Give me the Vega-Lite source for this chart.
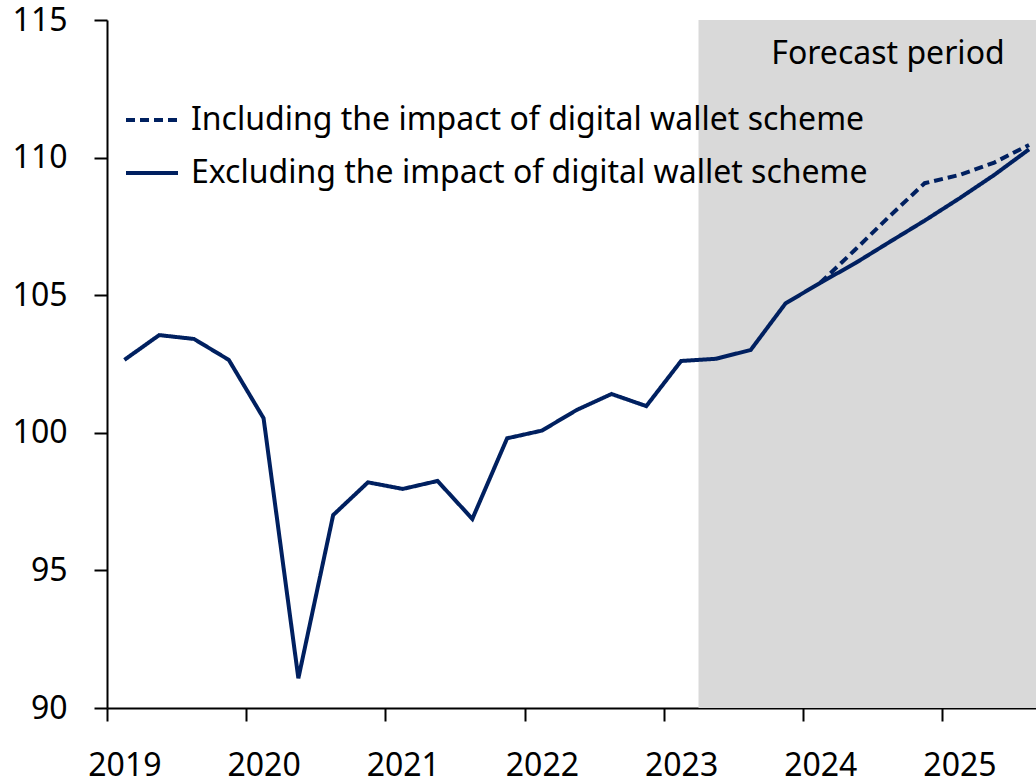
{
  "$schema": "https://vega.github.io/schema/vega-lite/v6.json",
  "width": 929,
  "height": 688,
  "autosize": "none",
  "padding": {"left": 107, "top": 20, "right": 0, "bottom": 74},
  "background": "white",
  "config": {"font": "Noto Sans", "view": {"stroke": null}},
  "datasets": {
    "forecast": [{"start": 16.5, "end": 30, "lo": 90, "hi": 115, "label": "Forecast period", "lx": 25.3, "ly": 113.78}],
    "series": [
      {"q": 0, "quarter": "2019Q1", "series": "Excluding the impact of digital wallet scheme", "value": 102.65},
      {"q": 1, "quarter": "2019Q2", "series": "Excluding the impact of digital wallet scheme", "value": 103.55},
      {"q": 2, "quarter": "2019Q3", "series": "Excluding the impact of digital wallet scheme", "value": 103.41},
      {"q": 3, "quarter": "2019Q4", "series": "Excluding the impact of digital wallet scheme", "value": 102.65},
      {"q": 4, "quarter": "2020Q1", "series": "Excluding the impact of digital wallet scheme", "value": 100.53},
      {"q": 5, "quarter": "2020Q2", "series": "Excluding the impact of digital wallet scheme", "value": 91.08},
      {"q": 6, "quarter": "2020Q3", "series": "Excluding the impact of digital wallet scheme", "value": 97.01},
      {"q": 7, "quarter": "2020Q4", "series": "Excluding the impact of digital wallet scheme", "value": 98.2},
      {"q": 8, "quarter": "2021Q1", "series": "Excluding the impact of digital wallet scheme", "value": 97.96},
      {"q": 9, "quarter": "2021Q2", "series": "Excluding the impact of digital wallet scheme", "value": 98.25},
      {"q": 10, "quarter": "2021Q3", "series": "Excluding the impact of digital wallet scheme", "value": 96.87},
      {"q": 11, "quarter": "2021Q4", "series": "Excluding the impact of digital wallet scheme", "value": 99.8},
      {"q": 12, "quarter": "2022Q1", "series": "Excluding the impact of digital wallet scheme", "value": 100.08},
      {"q": 13, "quarter": "2022Q2", "series": "Excluding the impact of digital wallet scheme", "value": 100.83},
      {"q": 14, "quarter": "2022Q3", "series": "Excluding the impact of digital wallet scheme", "value": 101.41},
      {"q": 15, "quarter": "2022Q4", "series": "Excluding the impact of digital wallet scheme", "value": 100.97},
      {"q": 16, "quarter": "2023Q1", "series": "Excluding the impact of digital wallet scheme", "value": 102.61},
      {"q": 17, "quarter": "2023Q2", "series": "Excluding the impact of digital wallet scheme", "value": 102.69},
      {"q": 18, "quarter": "2023Q3", "series": "Excluding the impact of digital wallet scheme", "value": 103.01},
      {"q": 19, "quarter": "2023Q4", "series": "Excluding the impact of digital wallet scheme", "value": 104.7},
      {"q": 20, "quarter": "2024Q1", "series": "Excluding the impact of digital wallet scheme", "value": 105.45},
      {"q": 21, "quarter": "2024Q2", "series": "Excluding the impact of digital wallet scheme", "value": 106.16},
      {"q": 22, "quarter": "2024Q3", "series": "Excluding the impact of digital wallet scheme", "value": 106.94},
      {"q": 23, "quarter": "2024Q4", "series": "Excluding the impact of digital wallet scheme", "value": 107.71},
      {"q": 24, "quarter": "2025Q1", "series": "Excluding the impact of digital wallet scheme", "value": 108.52},
      {"q": 25, "quarter": "2025Q2", "series": "Excluding the impact of digital wallet scheme", "value": 109.37},
      {"q": 26, "quarter": "2025Q3", "series": "Excluding the impact of digital wallet scheme", "value": 110.3},
      {"q": 20, "quarter": "2024Q1", "series": "Including the impact of digital wallet scheme", "value": 105.45},
      {"q": 21, "quarter": "2024Q2", "series": "Including the impact of digital wallet scheme", "value": 106.65},
      {"q": 22, "quarter": "2024Q3", "series": "Including the impact of digital wallet scheme", "value": 107.88},
      {"q": 23, "quarter": "2024Q4", "series": "Including the impact of digital wallet scheme", "value": 109.07},
      {"q": 24, "quarter": "2025Q1", "series": "Including the impact of digital wallet scheme", "value": 109.37},
      {"q": 25, "quarter": "2025Q2", "series": "Including the impact of digital wallet scheme", "value": 109.82},
      {"q": 26, "quarter": "2025Q3", "series": "Including the impact of digital wallet scheme", "value": 110.46}
    ]
  },
  "layer": [
    {
      "data": {"name": "forecast"},
      "mark": {"type": "rect", "color": "#D9D9D9", "clip": true},
      "encoding": {
        "x": {
          "field": "start", "type": "quantitative",
          "scale": {"domain": [-0.5, 26.2], "nice": false, "zero": false},
          "axis": {
            "title": null, "grid": false,
            "values": [-0.5, 3.5, 7.5, 11.5, 15.5, 19.5, 23.5],
            "labelExpr": "2019 + (datum.value + 0.5) / 4",
            "labelOffset": 17.4, "labelFontSize": 32, "labelColor": "black",
            "labelPadding": 29, "labelOverlap": false, "labelFlush": false, "labelBound": false,
            "tickSize": 13, "tickColor": "black", "tickWidth": 2,
            "domainColor": "black", "domainWidth": 2
          }
        },
        "x2": {"field": "end"},
        "y": {
          "field": "lo", "type": "quantitative",
          "scale": {"domain": [90, 115], "nice": false, "zero": false},
          "axis": {
            "title": null, "grid": false,
            "values": [90, 95, 100, 105, 110, 115],
            "labelFontSize": 32, "labelColor": "black", "labelPadding": 27,
            "labelOverlap": false, "labelFlush": false, "labelBound": false,
            "tickSize": 13, "tickColor": "black", "tickWidth": 2,
            "domainColor": "black", "domainWidth": 2
          }
        },
        "y2": {"field": "hi"}
      }
    },
    {
      "data": {"name": "forecast"},
      "mark": {"type": "text", "align": "right", "baseline": "middle", "fontSize": 32, "color": "black"},
      "encoding": {
        "x": {"field": "lx", "type": "quantitative"},
        "y": {"field": "ly", "type": "quantitative"},
        "text": {"field": "label"}
      }
    },
    {
      "data": {"name": "series"},
      "mark": {"type": "line", "strokeWidth": 4, "color": "#002060", "clip": true},
      "encoding": {
        "x": {"field": "q", "type": "quantitative"},
        "y": {"field": "value", "type": "quantitative"},
        "strokeDash": {
          "field": "series", "type": "nominal",
          "scale": {
            "domain": ["Including the impact of digital wallet scheme", "Excluding the impact of digital wallet scheme"],
            "range": [[9, 5], [1, 0]]
          },
          "legend": {
            "title": null, "orient": "none", "legendX": 17, "legendY": 72,
            "padding": 0, "symbolType": "stroke", "symbolSize": 2704,
            "symbolStrokeWidth": 4, "symbolStrokeColor": "#002060",
            "labelFontSize": 32, "labelColor": "black", "labelOffset": 11,
            "rowPadding": 9, "labelLimit": 900
          }
        },
        "order": {"field": "q", "type": "quantitative"}
      }
    }
  ]
}
